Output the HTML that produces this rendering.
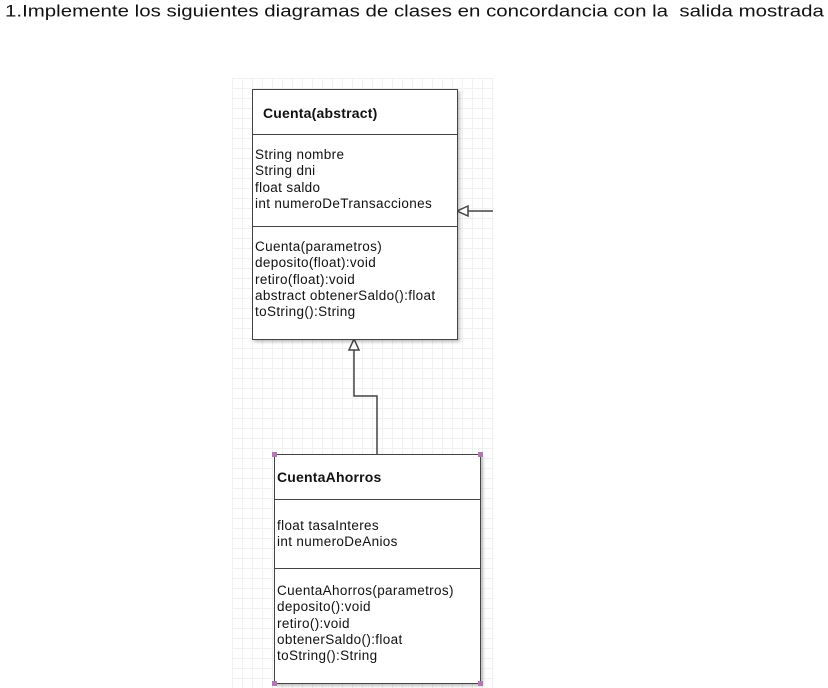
<!DOCTYPE html>
<html><head><style>
body{margin:0;width:828px;height:688px;background:#fff;position:relative;overflow:hidden;font-family:"Liberation Sans",sans-serif}
.t{position:absolute;left:5px;top:3px;font-size:15.5px;color:#111;white-space:nowrap;transform:scale(1.32,1.05);transform-origin:0 0}
.grid{position:absolute;left:232px;top:78px;width:262px;height:610px;
background-image:linear-gradient(#f1f1f4 1px,transparent 1px),linear-gradient(90deg,#f1f1f4 1px,transparent 1px);background-size:10px 10px}
.box{position:absolute;background:#fff;border:1.5px solid #444;box-shadow:2px 2px 3px rgba(0,0,0,.25);font-size:13.5px;letter-spacing:0.35px;color:#111;line-height:16.3px;white-space:nowrap}
.box .s{position:absolute;left:0;right:0;border-top:1.5px solid #444}
.box p{margin:0;position:absolute;left:2px}
.h{font-weight:bold;font-size:14px;letter-spacing:0.2px}
.dot{position:absolute;width:5px;height:5px;background:#b07ab0}
</style></head><body>
<div class="t">1.Implemente los siguientes diagramas de clases en concordancia con la&nbsp; salida mostrada</div>
<div class="grid"></div>
<svg style="position:absolute;left:0;top:0" width="828" height="688">
<g stroke="#444" stroke-width="1.5" fill="none">
<polyline points="354,350 354,396 377,396 377,454"/>
<polygon points="354,339 349,350 359,350" fill="#fff"/>
<line x1="468" y1="211" x2="493" y2="211"/>
<polygon points="457,211 468,206 468,216" fill="#fff"/>
</g></svg>
<div class="box" style="left:252px;top:89px;width:204px;height:249px">
<p class="h" style="left:10px;top:15px">Cuenta(abstract)</p>
<div class="s" style="top:44px"></div>
<p style="top:57px">String nombre<br>String dni<br>float saldo<br>int numeroDeTransacciones</p>
<div class="s" style="top:136px"></div>
<p style="top:149px">Cuenta(parametros)<br>deposito(float):void<br>retiro(float):void<br>abstract obtenerSaldo():float<br>toString():String</p>
</div>
<div class="box" style="left:274px;top:454px;width:205px;height:228px">
<p class="h" style="top:14px">CuentaAhorros</p>
<div class="s" style="top:44px"></div>
<p style="top:63px">float tasaInteres<br>int numeroDeAnios</p>
<div class="s" style="top:113px"></div>
<p style="top:128px">CuentaAhorros(parametros)<br>deposito():void<br>retiro():void<br>obtenerSaldo():float<br>toString():String</p>
</div>
<div class="dot" style="left:272px;top:452px"></div>
<div class="dot" style="left:478px;top:452px"></div>
<div class="dot" style="left:272px;top:681px"></div>
<div class="dot" style="left:478px;top:681px"></div>
</body></html>
